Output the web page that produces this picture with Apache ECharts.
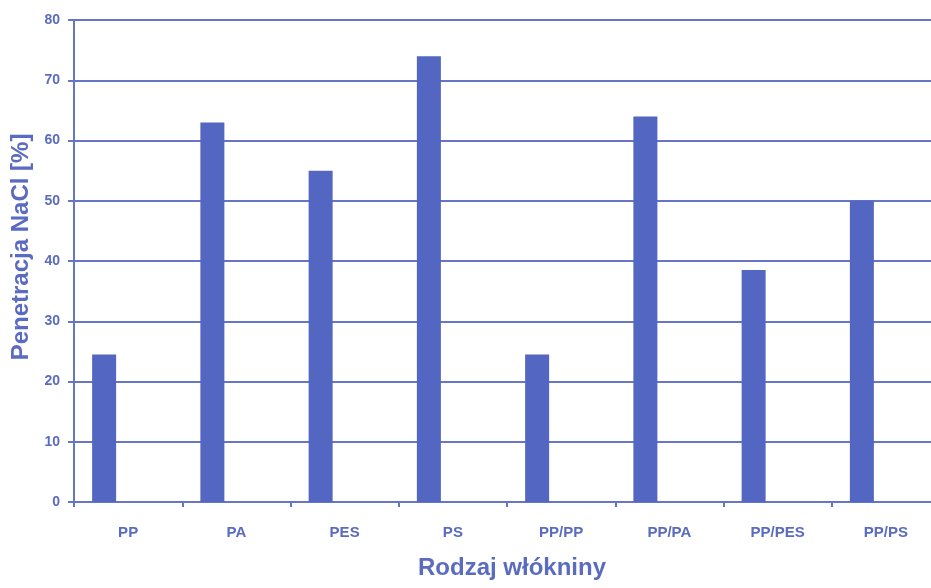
<!DOCTYPE html>
<html>
<head>
<meta charset="utf-8">
<script src="https://cdn.jsdelivr.net/npm/echarts@6/dist/echarts.min.js"></script>
<style>
  html, body { margin: 0; padding: 0; background: #fff; }
  #chart { width: 931px; height: 588px; }
</style>
</head>
<body>
<div id="chart"></div>
<script>
// rodzaje włóknin
const categories = ['PP', 'PA', 'PES', 'PS', 'PP/PP', 'PP/PA', 'PP/PES', 'PP/PS'];
// penetracja NaCl [%]
const penetration = [24.5, 63, 55, 74, 24.5, 64, 38.5, 50];
const yTicks = [0, 10, 20, 30, 40, 50, 60, 70, 80];

const chart = echarts.init(document.getElementById('chart'));

const textColor = '#5a6bc0';
const lineColor = '#6675c6';

chart.setOption({
  animation: false,
  grid: {
    left: 74,
    width: 866,   // wykres ucięty z prawej strony jak w oryginale
    top: 20,
    bottom: 86,
    outerBoundsMode: 'none'
  },
  xAxis: {
    type: 'category',
    data: categories,
    name: 'Rodzaj włókniny',
    nameLocation: 'middle',
    nameGap: 54,
    nameTextStyle: {
      color: textColor,
      fontFamily: 'Liberation Sans',
      fontWeight: 'bold',
      fontSize: 24,
      padding: [0, 0, 0, 10]
    },
    axisLine: { lineStyle: { color: lineColor, width: 2 } },
    axisTick: { show: true, length: 5, lineStyle: { color: lineColor, width: 2 } },
    axisLabel: {
      margin: 23,
      color: textColor,
      fontFamily: 'Liberation Sans',
      fontWeight: 'bold',
      fontSize: 15
    }
  },
  yAxis: {
    type: 'value',
    min: yTicks[0],
    max: yTicks[yTicks.length - 1],
    interval: 10,
    name: 'Penetracja NaCl [%]',
    nameLocation: 'middle',
    nameGap: 39,
    nameTextStyle: {
      color: textColor,
      fontFamily: 'Liberation Sans',
      fontWeight: 'bold',
      fontSize: 24,
      padding: [0, 0, 0, 28]
    },
    axisLine: { show: true, lineStyle: { color: lineColor, width: 2 } },
    axisTick: { show: true, length: 6, lineStyle: { color: lineColor, width: 2 } },
    axisLabel: {
      margin: 14,
      color: textColor,
      fontFamily: 'Liberation Sans',
      fontWeight: 'bold',
      fontSize: 14
    },
    splitLine: { lineStyle: { color: lineColor, width: 2 } }
  },
  series: [
    {
      type: 'bar',
      data: penetration,
      barWidth: 24,
      barGap: '100%',
      itemStyle: { color: '#5366c1' }
    },
    {
      // pusta seria - przesuwa słupki w lewo jak w oryginale
      type: 'bar',
      data: [],
      barWidth: 24
    }
  ]
});
</script>
</body>
</html>
